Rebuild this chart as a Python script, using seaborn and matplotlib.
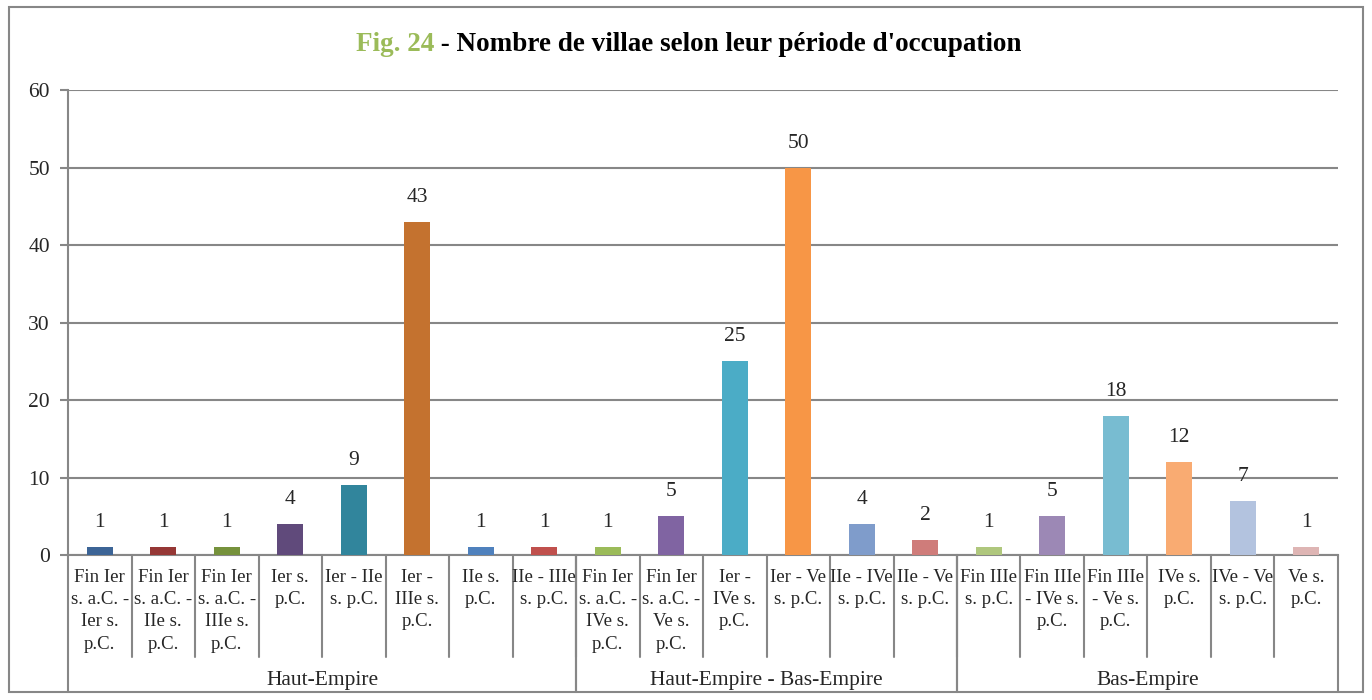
import matplotlib
matplotlib.use("Agg")
import matplotlib.pyplot as plt
import matplotlib.transforms as mtransforms
from matplotlib.patches import Rectangle
import seaborn as sns

# données
periodes = [
    "Fin Ier s. a.C. - Ier s. p.C.", "Fin Ier s. a.C. - IIe s. p.C.",
    "Fin Ier s. a.C. - IIIe s. p.C.", "Ier s. p.C.", "Ier - IIe s. p.C.",
    "Ier - IIIe s. p.C.", "IIe s. p.C.", "IIe - IIIe s. p.C.",
    "Fin Ier s. a.C. - IVe s. p.C.", "Fin Ier s. a.C. - Ve s. p.C.",
    "Ier - IVe s. p.C.", "Ier - Ve s. p.C.", "IIe - IVe s. p.C.",
    "IIe - Ve s. p.C.", "Fin IIIe s. p.C.", "Fin IIIe - IVe s. p.C.",
    "Fin IIIe - Ve s. p.C.", "IVe s. p.C.", "IVe - Ve s. p.C.", "Ve s. p.C.",
]
etiquettes = [
    "Fin Ier\ns. a.C. -\nIer s.\np.C.", "Fin Ier\ns. a.C. -\nIIe s.\np.C.",
    "Fin Ier\ns. a.C. -\nIIIe s.\np.C.", "Ier s.\np.C.", "Ier - IIe\ns. p.C.",
    "Ier -\nIIIe s.\np.C.", "IIe s.\np.C.", "IIe - IIIe\ns. p.C.",
    "Fin Ier\ns. a.C. -\nIVe s.\np.C.", "Fin Ier\ns. a.C. -\nVe s.\np.C.",
    "Ier -\nIVe s.\np.C.", "Ier - Ve\ns. p.C.", "IIe - IVe\ns. p.C.",
    "IIe - Ve\ns. p.C.", "Fin IIIe\ns. p.C.", "Fin IIIe\n- IVe s.\np.C.",
    "Fin IIIe\n- Ve s.\np.C.", "IVe s.\np.C.", "IVe - Ve\ns. p.C.", "Ve s.\np.C.",
]
nb_villae = [1, 1, 1, 4, 9, 43, 1, 1, 1, 5, 25, 50, 4, 2, 1, 5, 18, 12, 7, 1]
groupes = ["Haut-Empire", "Haut-Empire - Bas-Empire", "Bas-Empire"]
taille_groupes = [8, 6, 6]

COULEURS = ['#3C6496', '#953735', '#76923C', '#604A7B', '#31859C', '#C4722F',
            '#4F81BD', '#C0504D', '#9BBB59', '#8064A2', '#4BACC6', '#F79646',
            '#7F9CCB', '#CF7C7A', '#AFC77D', '#9C88B5', '#78BCD1', '#F9AB72',
            '#B3C3DF', '#DEB5B4']
GRIS = '#878787'

sns.set_style("white")
plt.rcParams['font.family'] = ['Liberation Serif', 'DejaVu Serif']

fig = plt.figure(figsize=(13.72, 7.0), dpi=100)
ax = fig.add_axes([0.0496, 0.2071, 0.9256, 0.6643])

sns.barplot(x=periodes, y=nb_villae, hue=periodes, palette=COULEURS,
            legend=False, width=0.41, ax=ax, saturation=1, linewidth=0, zorder=3)

ax.set_xlim(-0.5, len(periodes) - 0.5)
ax.set_ylim(0, 60)
ax.set_yticks(range(0, 61, 10))
ax.tick_params(axis='y', labelsize=15.5, length=6, color=GRIS, width=1.5, pad=7, left=True)
ax.set_xticks([])
ax.yaxis.grid(True, color=GRIS, lw=1.5, zorder=0)
ax.set_axisbelow(True)
for s in ['top', 'right']:
    ax.spines[s].set_visible(False)
ax.spines['left'].set_color(GRIS)
ax.spines['left'].set_linewidth(1.5)
ax.spines['bottom'].set_color(GRIS)
ax.spines['bottom'].set_linewidth(1.5)

# étiquettes de valeur
for i, v in enumerate(nb_villae):
    ax.annotate(str(v), (i, v), xytext=(0, 17.5), textcoords='offset points',
                ha='center', va='center', fontsize=15.5)

# axe à deux niveaux
trans = mtransforms.blended_transform_factory(ax.transData, ax.transAxes)
for i, lab in enumerate(etiquettes):
    ax.text(i, -0.030, lab, transform=trans, ha='center', va='top',
            fontsize=13.5, linespacing=1.4)
for i in range(1, len(periodes)):
    ax.plot([i - 0.5, i - 0.5], [0, -0.219], transform=trans, color=GRIS,
            lw=1.5, clip_on=False)
debut = 0
for nom, n in zip(groupes, taille_groupes):
    for b in (debut, debut + n):
        ax.plot([b - 0.5, b - 0.5], [0, -0.295], transform=trans, color=GRIS,
                lw=1.5, clip_on=False)
    ax.text(debut + n / 2 - 0.5, -0.269, nom, transform=trans, ha='center',
            va='center', fontsize=15.5)
    debut += n

# titre en deux couleurs
t1 = fig.text(0.5, 0.936, "Fig. 24", color='#9BBB59', fontsize=19.5,
              fontweight='bold', ha='left', va='center')
t2 = ax.annotate(" - Nombre de villae selon leur période d'occupation",
                 xy=(1, 0.5), xycoords=t1, ha='left', va='center',
                 fontsize=19.5, fontweight='bold', color='black',
                 annotation_clip=False)
fig.canvas.draw()
r = fig.canvas.get_renderer()
w = (t1.get_window_extent(r).width + t2.get_window_extent(r).width) / fig.bbox.width
t1.set_x(0.502 - w / 2)

fig.patches.append(Rectangle((0.0065, 0.011), 0.987, 0.979, transform=fig.transFigure,
                             fill=False, ec=GRIS, lw=1.5))

fig.savefig("out.png", dpi=100)
